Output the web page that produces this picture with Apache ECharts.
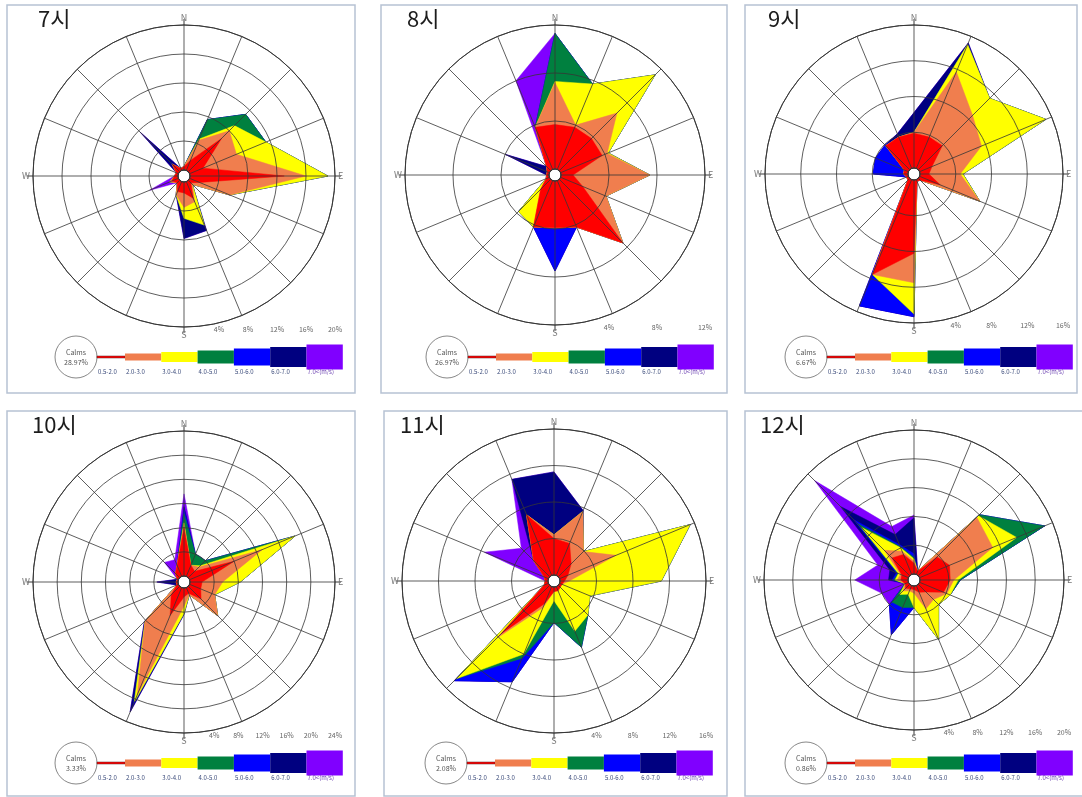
<!DOCTYPE html>
<html>
<head>
<meta charset="utf-8">
<script src="https://cdn.jsdelivr.net/npm/echarts@6/dist/echarts.min.js"></script>
<style>
  html, body { margin: 0; padding: 0; background: #ffffff; }
  #chart { width: 1082px; height: 797px; }
</style>
</head>
<body>
<div id="chart"></div>
<script>
// 16 compass sectors, clockwise from north
const directions = ['N','NNE','NE','ENE','E','ESE','SE','SSE','S','SSW','SW','WSW','W','WNW','NW','NNW'];
// wind-speed classes (m/s) and their colours
const speedClasses = ['0.5-2.0','2.0-3.0','3.0-4.0','4.0-5.0','5.0-6.0','6.0-7.0','7.0<(m/s)'];
const classColors = ['#FF0000','#F07E4E','#FFFF00','#00803F','#0000FF','#000080','#8000FF'];
const hours = ['7시','8시','9시','10시','11시','12시'];
const calms = ['28.97%','26.97%','6.67%','3.33%','2.08%','0.86%'];
const ringMax = [20, 12, 16, 24, 16, 20];   // outer ring (%) of each rose
const ringStep = 4;                          // ring spacing (%)

// frequency (%) per speed class (rows) and direction (columns N..NNW)
const h07 = [
  [0.5,1.5,6.5,2.0,13.0,1.5,0.5,2.5,1.5,1.5,0.5,1.0,0.5,0.3,1.5,0.3],
  [0,3.0,1.5,5.0,3.0,4.5,0.3,0.5,2.0,0.5,0,0.3,0,0,0,0],
  [0,0.2,1.0,4.4,3.0,0,0,3.5,1.5,0,0,0,0,0,0,0],
  [0,2.9,2.2,0,0,0,0,0,0,0,0,0,0,0,0,0],
  [0,0,0,0,0,0,0,0,0,0,0,0,0,0,0.3,0],
  [0,0,0,0,0,0,0,0.8,2.8,0,0,0,0,0,5.9,0],
  [0,0,0,0,0,0,0,0,0,0,0,3.0,0,0,0,0]
];
const h08 = [
  [3.7,3.8,3.8,3.75,1.0,2.0,7.5,4.2,3.9,4.2,1.2,0.3,0.2,0.2,0.5,3.8],
  [3.5,0.2,3.0,0.45,6.4,2.1,0,0,0,0,0,0,0,0,0,0],
  [0.1,3.7,4.5,0.1,0,0,0,0,0,0,2.6,0,0,0,0,0],
  [4.0,0,0,0,0,0,0,0,0,0,0,0,0,0,0,0],
  [0,0,0,0,0,0,0,0,3.6,0,0,0,0,0,0,0],
  [0,0,0,0,0,0,0,0,0,0,0,0,0,3.8,0,0],
  [0,0,0,0,0,0,0,0,0,0,0,0,0,0,0,4.2]
];
const h09 = [
  [3.9,3.8,3.8,1.5,1.0,2.5,0.3,0.2,8.2,11.5,0.3,0.2,0.5,0.5,3.8,3.8],
  [0.1,7.9,4.8,6.0,3.5,4.8,0,0,3.3,0,0,0,0,0,0,0],
  [0,3.3,2.7,7.8,0.3,0,0,0,3.5,0,0,0,0,0,0,0],
  [0,0,0,0,0,0,0,0,0,0,0,0,0,0,0,0],
  [0,0,0,0,0,0,0,0,0.3,3.8,0,0,3.4,3.5,0.1,0],
  [2.2,0.2,0,0,0,0,0,0,0,0,0,0,0,0,0,0.4],
  [0,0,0,0,0,0,0,0,0,0,0,0,0,0,0,0]
];
const h10 = [
  [8.0,2.0,1.5,8.0,2.0,2.0,3.0,1.0,1.5,5.0,2.0,0.3,0.3,0.2,1.0,2.0],
  [0.5,0,1.0,5.0,3.4,2.5,3.9,0.3,1.5,14.2,6.1,0,0,0,0,0],
  [0.3,0,0.3,5.9,2.9,0,0,0,1.2,1.3,0,0,0,0,0,0],
  [1.5,2.0,1.2,0,0,0,0,0,0,0,0,0,0,0,0,0],
  [0.7,0,0,0,0,0,0,0,0,0.3,0,0,0,0,0,0],
  [0.5,0,0,0,0,0,0,0,0.2,1.5,0.2,0,3.2,0,0,0],
  [2.1,0,0,0,0,0,0,0,0,0,0,0,0,0,2.6,1.0]
];
const h11 = [
  [4.0,3.8,2.0,1.0,0.5,0.3,0.3,0.5,0.5,2.0,7.5,0.5,0.3,0.5,2.5,7.2],
  [0.4,3.8,1.9,5.7,0.5,0,0,0,0,0.5,0.7,0,0,0,0,0],
  [0,0,0,8.8,10.1,3.3,4.3,4.8,1.0,5.5,6.3,0,0,0,0,0],
  [0,0,0,0,0,0,0,1.9,2.4,0.5,0,0,0,0,0,0],
  [0,0,0,0,0,0,0,0,0,2.8,0.3,0,0,0,0,0],
  [6.9,0.1,0,0,0,0,0,0,0,0,0,0,0,0,0,4.2],
  [0,0,0,0,0,0,0,0,0,0,0,0,0,7.1,1.9,0]
];
const h12 = [
  [1.5,0.5,3.7,4.5,4.2,3.6,1.5,1.0,0.5,0.5,0.8,0.5,1.0,1.0,3.5,3.0],
  [0.3,0,7.8,6.5,0.5,0.5,1.5,2.5,0.5,0.3,0.5,0,0.5,0.2,1.5,0.5],
  [0.3,0,0.3,3.6,0.6,0.5,1.0,4.6,2.0,0.5,0.7,0,0.3,0.3,4.5,0.5],
  [0.2,0,0.2,4.2,0.3,0,0,0,0,2.0,1.5,0,0.2,0.1,0.7,0.2],
  [0.5,0,0,0,0,0,0,0,0,4.1,0.5,0,0.2,0.2,0.8,0.3],
  [5.0,0,0,0,0,0,0,0,0,0,0,0,0.5,1.0,2.6,1.5],
  [0.4,0,0,0,0,0,0,0,0,0,0,3.5,4.7,1.8,5.1,1.2]
];
const hourData = [h07, h08, h09, h10, h11, h12];

// ---- layout of the six panels (page pixels) ----
const HOLE = 6;   // radius of the calm hole in the middle of each rose
const panels = [
  { x: 7,   y: 5,   w: 348, h: 388, cx: 184, cy: 176, r: 151, tx: 38 },
  { x: 381, y: 5,   w: 346, h: 388, cx: 555, cy: 175, r: 150, tx: 407 },
  { x: 745, y: 5,   w: 332, h: 388, cx: 914, cy: 174, r: 149, tx: 768 },
  { x: 7,   y: 411, w: 348, h: 385, cx: 184, cy: 582, r: 151, tx: 32 },
  { x: 384, y: 411, w: 343, h: 385, cx: 554, cy: 581, r: 152, tx: 400 },
  { x: 745, y: 411, w: 345, h: 385, cx: 914, cy: 580, r: 150, tx: 760 }
];
const compass = { 0: 'N', 90: 'E', 180: 'S', 270: 'W' };
const legendBarHeights = [2, 7, 10, 13, 17, 20, 25];
const gridColor = '#363636';
const FONT = '"Noto Sans CJK KR", "Noto Sans", sans-serif';

// running totals: polygon k encloses classes 0..k
function cumulate(rows) {
  const out = [];
  rows.forEach((row, k) => {
    out.push(row.map((v, i) => v + (k > 0 ? out[k - 1][i] : 0)));
  });
  return out;
}

const option = {
  animation: false,
  backgroundColor: '#ffffff',
  textStyle: { fontFamily: FONT },
  polar: [], angleAxis: [], radiusAxis: [],
  grid: [], xAxis: [], yAxis: [],
  series: [], graphic: []
};

hourData.forEach((rows, p) => {
  const L = panels[p];
  const cum = cumulate(rows);

  option.polar.push({ center: [L.cx, L.cy], radius: [HOLE, L.r] });

  option.angleAxis.push({
    polarIndex: p, type: 'value', min: 0, max: 360, interval: 22.5,
    startAngle: 90, clockwise: true, z: 5,
    axisLine: { show: true, lineStyle: { color: gridColor, width: 1 } },
    axisTick: { show: false },
    axisLabel: { show: true, margin: 3, fontSize: 9, color: '#777',
      formatter: v => compass[v] || '' },
    splitLine: { show: true, lineStyle: { color: gridColor, width: 1, opacity: 0.8 } }
  });

  option.radiusAxis.push({
    polarIndex: p, type: 'value', min: 0, max: ringMax[p], interval: ringStep, z: 5,
    axisLine: { show: false }, axisTick: { show: false }, axisLabel: { show: false },
    splitLine: { show: true, lineStyle: { color: gridColor, width: 1, opacity: 0.8 } }
  });

  // percentage scale printed under each rose, aligned with the rings
  option.grid.push({ left: L.cx + HOLE, width: L.r - HOLE, top: L.cy + L.r - 3, height: 1 });
  option.xAxis.push({
    gridIndex: p, type: 'value', min: 0, max: ringMax[p], interval: ringStep,
    axisLine: { show: false }, axisTick: { show: false }, splitLine: { show: false },
    axisLabel: { fontSize: 7, color: '#666', margin: 1, showMaxLabel: true,
      formatter: v => (v === 0 ? '' : v + '%') }
  });
  option.yAxis.push({ gridIndex: p, type: 'value', show: false });

  // stacked speed-class polygons, largest total drawn first
  const drawOrder = [6, 5, 4, 3, 2, 1, 0];
  option.series.push({
    type: 'custom', coordinateSystem: 'polar', polarIndex: p, z: 2, silent: true,
    data: drawOrder.map(k => ({ value: [0, 0, k] })),
    renderItem: (params, api) => {
      const k = api.value(2);
      const pts = cum[k].map((v, i) => api.coord([v, i * 22.5]));
      return {
        type: 'polygon', z2: 10 - k,
        shape: { points: pts },
        style: { fill: classColors[k], stroke: classColors[k], lineWidth: 0.5 }
      };
    }
  });

  // white calm hole and the N/E/S/W axis overshoot
  option.series.push({
    type: 'custom', coordinateSystem: 'polar', polarIndex: p, z: 3, silent: true,
    data: [{ value: [0, 0] }],
    renderItem: (params) => {
      const cs = params.coordSys;
      const e = 6;
      const seg = (x1, y1, x2, y2) => ({ type: 'line', shape: { x1, y1, x2, y2 },
        style: { stroke: gridColor, lineWidth: 1 } });
      return {
        type: 'group',
        children: [
          { type: 'circle', shape: { cx: cs.cx, cy: cs.cy, r: cs.r0 },
            style: { fill: '#ffffff', stroke: '#555', lineWidth: 1 } },
          seg(cs.cx, cs.cy - cs.r, cs.cx, cs.cy - cs.r - e),
          seg(cs.cx, cs.cy + cs.r, cs.cx, cs.cy + cs.r + e),
          seg(cs.cx - cs.r, cs.cy, cs.cx - cs.r - e, cs.cy),
          seg(cs.cx + cs.r, cs.cy, cs.cx + cs.r + e, cs.cy)
        ]
      };
    }
  });

  // panel frame and hour title
  option.graphic.push({
    type: 'rect', silent: true, z: 0,
    shape: { x: L.x, y: L.y, width: L.w, height: L.h },
    style: { fill: 'none', stroke: '#B7C2D3', lineWidth: 1.5 }
  });
  option.graphic.push({
    type: 'text', silent: true, x: L.tx, y: L.y + 3,
    style: { text: hours[p], font: '22px ' + FONT, fill: '#1c1c1c', verticalAlign: 'top' }
  });

  // legend: calm circle followed by the speed-class bars
  const ly = L.y + 352;
  const lcx = L.cx - 108;
  option.graphic.push({
    type: 'line', silent: true,
    shape: { x1: lcx + 21, y1: ly, x2: L.cx - 59, y2: ly },
    style: { stroke: '#444', lineWidth: 1 }
  });
  option.graphic.push({
    type: 'circle', silent: true, shape: { cx: lcx, cy: ly, r: 21 },
    style: { fill: '#ffffff', stroke: '#888', lineWidth: 1 }
  });
  option.graphic.push({
    type: 'text', silent: true, x: lcx, y: ly - 5,
    style: { text: 'Calms', font: '7px ' + FONT, fill: '#555', align: 'center', verticalAlign: 'middle' }
  });
  option.graphic.push({
    type: 'text', silent: true, x: lcx, y: ly + 5,
    style: { text: calms[p], font: '7px ' + FONT, fill: '#555', align: 'center', verticalAlign: 'middle' }
  });
  speedClasses.forEach((name, k) => {
    const x0 = k === 0 ? L.cx - 87 : L.cx - 95.3 + 36.3 * k;
    const x1 = L.cx - 59 + 36.3 * k;
    const hgt = legendBarHeights[k];
    option.graphic.push({
      type: 'rect', silent: true,
      shape: { x: x0, y: ly - hgt / 2, width: x1 - x0, height: hgt },
      style: { fill: classColors[k], stroke: k === 0 ? '#552222' : 'none', lineWidth: 0.5 }
    });
    option.graphic.push({
      type: 'text', silent: true, x: x0 + 1, y: ly + 15,
      style: { text: name, font: '6px ' + FONT, fill: k === 6 ? '#6a3fb0' : '#3a4a7a',
        align: 'left', verticalAlign: 'middle' }
    });
  });
});

const chart = echarts.init(document.getElementById('chart'), null, { renderer: 'canvas' });
chart.setOption(option);
</script>
</body>
</html>
